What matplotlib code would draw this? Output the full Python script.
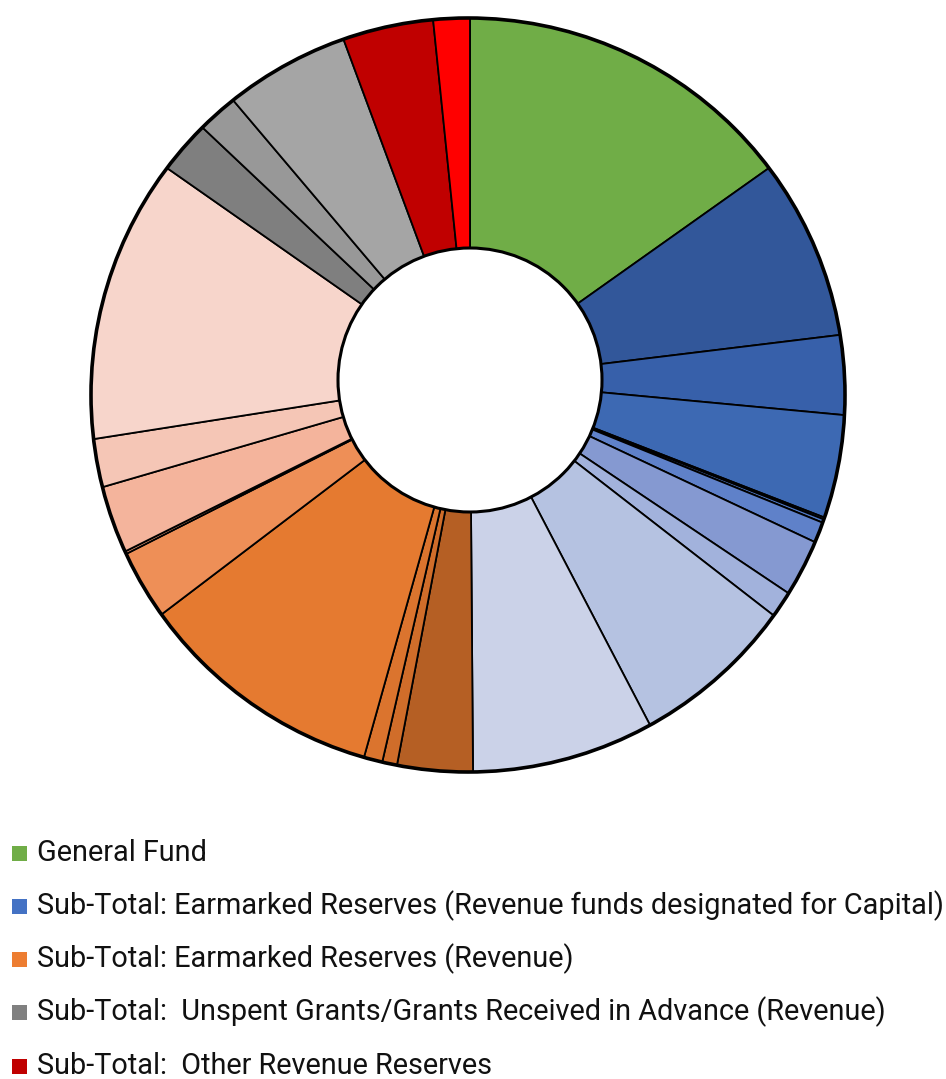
import matplotlib
matplotlib.use("Agg")
import matplotlib.pyplot as plt
from matplotlib.patches import Circle, Rectangle
from matplotlib import font_manager as fm

# ---- data (angular shares, clockwise from 12 o'clock) ----
slice_groups = [
    "General Fund",
    "Capital", "Capital", "Capital", "Capital", "Capital", "Capital",
    "Capital", "Capital", "Capital", "Capital",
    "Revenue", "Revenue", "Revenue", "Revenue", "Revenue", "Revenue",
    "Revenue", "Revenue", "Revenue",
    "Grants", "Grants", "Grants",
    "Other", "Other",
]
slice_values = [54.66,
                28.39, 12.31, 15.85, 0.30, 0.52, 3.15, 8.63, 3.99, 24.65, 27.11,
                11.18, 2.20, 2.76, 37.07, 10.40, 0.40, 10.18, 7.33, 43.90,
                8.37, 6.40, 19.88,
                14.52, 5.85]
slice_colors = ["#70AD47",
                "#32579A", "#3760AA", "#3D69B3", "#4470C0", "#4F78C4", "#5F81C9",
                "#8599D1", "#A2B2DC", "#B5C2E1", "#CBD2E8",
                "#B55F24", "#D06D2A", "#DB742E", "#E57A30", "#EE8F57", "#F0A07A",
                "#F4B49C", "#F5C6B6", "#F7D5CB",
                "#7F7F7F", "#989898", "#A5A5A5",
                "#C00000", "#FF0000"]

legend_labels = [
    "General Fund",
    "Sub-Total: Earmarked Reserves (Revenue funds designated for Capital)",
    "Sub-Total: Earmarked Reserves (Revenue)",
    "Sub-Total:  Unspent Grants/Grants Received in Advance (Revenue)",
    "Sub-Total:  Other Revenue Reserves",
]
legend_colors = ["#70AD47", "#4472C4", "#ED7D31", "#808080", "#C00000"]

# ---- figure ----
W, H = 946, 1079
fig = plt.figure(figsize=(W / 100, H / 100), dpi=100)

# outer ring geometry (pixels) and the point where the slices meet
cx, cy, R = 468, 395, 377
vx, vy = 470, 380
hr = 132
ax = fig.add_axes([(cx - R) / W, (H - (cy + R)) / H, 2 * R / W, 2 * R / H])

vcenter = ((vx - cx) / R, (cy - vy) / R)
wedges, _ = ax.pie(slice_values, colors=slice_colors, startangle=90,
                   counterclock=False, radius=1.1, center=vcenter,
                   wedgeprops=dict(edgecolor="black", linewidth=1.3))

ax.set_xlim(-1, 1)
ax.set_ylim(-1, 1)
ax.set_aspect("equal")
ax.axis("off")

# clip the slices to the outer ring
clip_circle = Circle((0, 0), 1.0, transform=ax.transData)
for w in wedges:
    w.set_clip_on(True)
    w.set_clip_path(clip_circle)

# outer rim
ax.add_patch(Circle((0, 0), 1.0, fill=False, edgecolor="black",
                    linewidth=2.6, clip_on=False, zorder=5))
# hole
ax.add_patch(Circle(vcenter, hr / R, facecolor="white",
                    edgecolor="black", linewidth=2.2, zorder=6))

# ---- legend ----
family = "DejaVu Sans"
for cand in ["Liberation Sans Narrow", "Roboto", "Lato", "Liberation Sans"]:
    try:
        fm.findfont(fm.FontProperties(family=cand), fallback_to_default=False)
        family = cand
        break
    except Exception:
        pass

row_y = [853, 906, 959, 1012, 1066]
text_x = 37
target_w = 904
renderer = fig.canvas.get_renderer()
probe = fig.text(0, 0, legend_labels[1], fontsize=20, family=family)
bw = probe.get_window_extent(renderer=renderer).width
probe.remove()
fs = 20 * target_w / bw

for lab, col, y in zip(legend_labels, legend_colors, row_y):
    fig.patches.append(Rectangle((12 / W, (H - y - 8) / H), 15 / W, 15 / H,
                                 transform=fig.transFigure, facecolor=col,
                                 edgecolor="none"))
    fig.text(text_x / W, (H - y) / H, lab, fontsize=fs, family=family,
             va="center", ha="left", color="#111111")

fig.savefig("out.png", dpi=100)
